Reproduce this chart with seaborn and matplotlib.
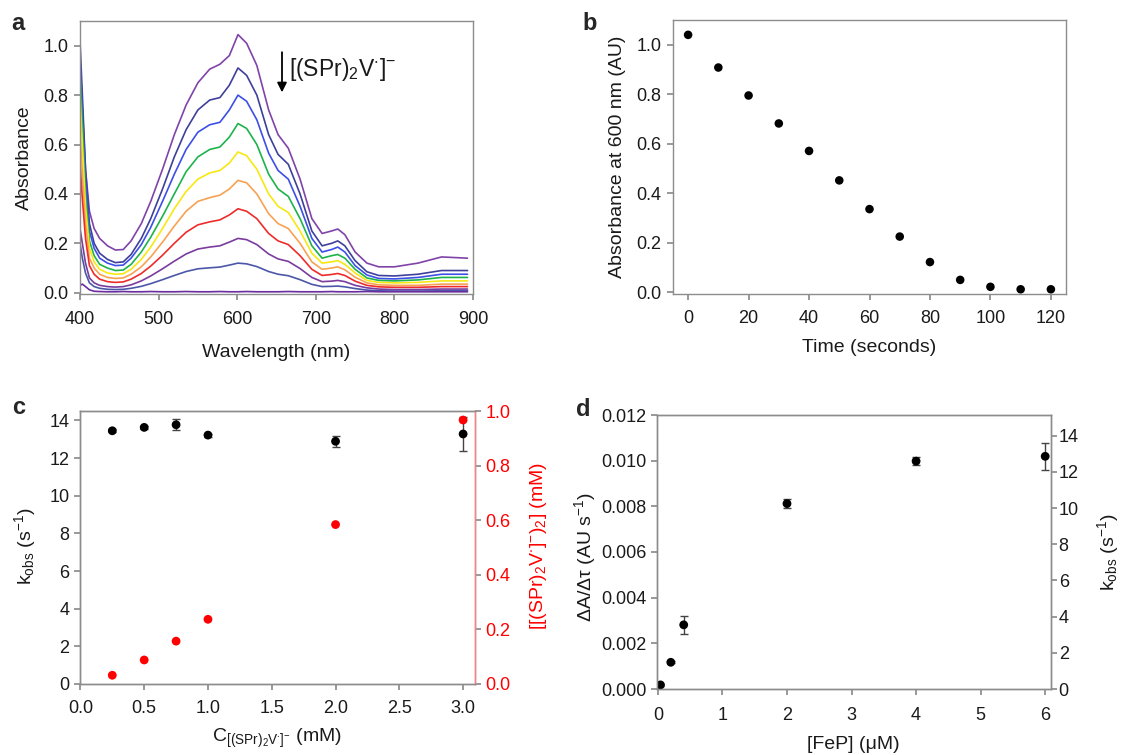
import numpy as np
import pandas as pd
import matplotlib
matplotlib.use("Agg")
import matplotlib.pyplot as plt
from matplotlib.ticker import FormatStrFormatter
import seaborn as sns

# ---- panel a: spectra (absorbance read at these wavelengths) ----
wavelength = [400, 403, 407, 412, 418, 425, 435, 445, 455, 465, 478, 490, 505, 520, 535,
              550, 565, 578, 590, 601, 612, 625, 640, 652, 665, 680, 695, 708, 720, 728,
              737, 750, 765, 780, 800, 830, 860, 893]
abs_0s = [0.95, 0.75, 0.50, 0.33, 0.26, 0.22, 0.19, 0.173, 0.175, 0.21, 0.28, 0.37, 0.50, 0.64, 0.76,
          0.85, 0.905, 0.925, 0.96, 1.045, 1.01, 0.92, 0.74, 0.64, 0.585, 0.46, 0.30, 0.24, 0.25, 0.258,
          0.235, 0.165, 0.12, 0.105, 0.105, 0.12, 0.145, 0.14]
abs_10s = [1.02, 0.80, 0.50, 0.28, 0.20, 0.16, 0.135, 0.122, 0.125, 0.155, 0.22, 0.30, 0.42, 0.55, 0.66,
           0.74, 0.78, 0.79, 0.84, 0.91, 0.88, 0.80, 0.64, 0.56, 0.52, 0.40, 0.25, 0.19, 0.20, 0.21,
           0.19, 0.13, 0.085, 0.07, 0.068, 0.075, 0.09, 0.09]
abs_20s = [0.93, 0.72, 0.45, 0.25, 0.18, 0.14, 0.12, 0.11, 0.112, 0.14, 0.195, 0.265, 0.37, 0.48, 0.58,
           0.65, 0.68, 0.69, 0.74, 0.80, 0.775, 0.70, 0.565, 0.495, 0.46, 0.35, 0.22, 0.165, 0.175, 0.185,
           0.165, 0.11, 0.072, 0.058, 0.056, 0.062, 0.075, 0.075]
abs_30s = [0.89, 0.68, 0.40, 0.21, 0.15, 0.115, 0.10, 0.09, 0.092, 0.115, 0.165, 0.225, 0.31, 0.40, 0.49,
           0.55, 0.58, 0.59, 0.63, 0.685, 0.665, 0.60, 0.48, 0.42, 0.39, 0.30, 0.19, 0.14, 0.15, 0.155,
           0.14, 0.095, 0.06, 0.05, 0.048, 0.052, 0.062, 0.062]
abs_40s = [0.80, 0.60, 0.35, 0.18, 0.125, 0.095, 0.08, 0.075, 0.077, 0.095, 0.135, 0.185, 0.26, 0.34, 0.41,
           0.46, 0.485, 0.495, 0.525, 0.57, 0.555, 0.50, 0.40, 0.35, 0.325, 0.25, 0.16, 0.12, 0.125, 0.13,
           0.115, 0.08, 0.05, 0.042, 0.04, 0.042, 0.048, 0.048]
abs_50s = [0.65, 0.48, 0.28, 0.14, 0.10, 0.075, 0.062, 0.058, 0.06, 0.075, 0.105, 0.145, 0.205, 0.27, 0.33,
           0.37, 0.385, 0.395, 0.42, 0.455, 0.445, 0.40, 0.32, 0.28, 0.26, 0.20, 0.125, 0.095, 0.10, 0.105,
           0.093, 0.063, 0.04, 0.032, 0.03, 0.03, 0.035, 0.035]
abs_60s = [0.52, 0.38, 0.22, 0.11, 0.075, 0.055, 0.045, 0.042, 0.044, 0.055, 0.078, 0.108, 0.152, 0.20, 0.245,
           0.275, 0.287, 0.295, 0.315, 0.34, 0.33, 0.30, 0.24, 0.21, 0.195, 0.15, 0.095, 0.07, 0.074, 0.078,
           0.07, 0.047, 0.03, 0.024, 0.022, 0.022, 0.025, 0.025]
abs_70s = [0.26, 0.20, 0.12, 0.06, 0.04, 0.03, 0.025, 0.023, 0.025, 0.032, 0.048, 0.068, 0.097, 0.128, 0.157,
           0.177, 0.185, 0.19, 0.205, 0.22, 0.215, 0.195, 0.157, 0.137, 0.127, 0.098, 0.062, 0.045, 0.047, 0.05,
           0.045, 0.03, 0.02, 0.015, 0.013, 0.013, 0.015, 0.015]
abs_80s = [0.20, 0.14, 0.08, 0.04, 0.025, 0.018, 0.014, 0.013, 0.014, 0.018, 0.026, 0.037, 0.053, 0.07, 0.086,
           0.097, 0.101, 0.104, 0.112, 0.12, 0.117, 0.106, 0.086, 0.075, 0.069, 0.053, 0.034, 0.025, 0.026, 0.027,
           0.024, 0.017, 0.011, 0.008, 0.007, 0.007, 0.008, 0.008]
abs_end = [0.03, 0.035, 0.025, 0.012, 0.006, 0.005, 0.004, 0.004, 0.005, 0.004, 0.004, 0.005, 0.004, 0.004, 0.005,
           0.004, 0.004, 0.005, 0.004, 0.004, 0.005, 0.004, 0.004, 0.004, 0.005, 0.004, 0.004, 0.004, 0.005, 0.004,
           0.004, 0.004, 0.005, 0.004, 0.004, 0.004, 0.004, 0.004]
scan_names = ['0 s', '10 s', '20 s', '30 s', '40 s', '50 s', '60 s', '70 s', '80 s', 'end']
scan_colors = ['#8043a8', '#3f3f9c', '#3d4fe6', '#1db34a', '#f7e813', '#f7a253',
               '#ee2b2b', '#7a3c9e', '#4b57a8', '#6a2c9e']

# ---- panel b: absorbance at 600 nm vs time ----
time_s = [0, 10, 20, 30, 40, 50, 60, 70, 80, 90, 100, 110, 120]
abs600 = [1.04, 0.908, 0.795, 0.682, 0.571, 0.452, 0.336, 0.225, 0.122, 0.05, 0.022, 0.012, 0.012]

# ---- panel c: kobs and dimer concentration vs C ----
conc_c = [0.25, 0.5, 0.75, 1.0, 2.0, 3.0]
kobs_c = [13.45, 13.63, 13.77, 13.22, 12.89, 13.28]
kobs_c_err = [0.08, 0.08, 0.3, 0.08, 0.3, 0.9]
dimer_c = [0.032, 0.088, 0.157, 0.237, 0.584, 0.967]

# ---- panel d: rate vs [FeP] ----
fep = [0.04, 0.2, 0.4, 2.0, 4.0, 6.0]
rate_d = [0.00018, 0.00117, 0.00281, 0.00812, 0.00998, 0.01019]
rate_d_err = [0.00005, 0.00005, 0.00038, 0.00018, 0.00017, 0.0006]

sns.set_theme(style="ticks", rc={
    "axes.edgecolor": "#8c8c8c", "axes.linewidth": 1.0,
    "xtick.color": "#8c8c8c", "ytick.color": "#8c8c8c",
    "xtick.labelcolor": "#1a1a1a", "ytick.labelcolor": "#1a1a1a",
    "xtick.major.size": 4, "ytick.major.size": 4,
    "xtick.labelsize": 13, "ytick.labelsize": 13,
    "axes.labelsize": 14, "axes.labelcolor": "#1a1a1a",
})
plt.rcParams['font.family'] = ['Liberation Sans', 'DejaVu Sans']
plt.rcParams['mathtext.fontset'] = 'custom'
plt.rcParams['mathtext.rm'] = 'Liberation Sans'
plt.rcParams['mathtext.it'] = 'Liberation Sans:italic'
plt.rcParams['mathtext.default'] = 'regular'

W, H = 1122, 755
fig = plt.figure(figsize=(W / 100, H / 100), dpi=100)


def add_axes(left, right, top, bottom):
    return fig.add_axes([left / W, 1 - bottom / H, (right - left) / W, (bottom - top) / H])


def box(ax):
    for s in ax.spines.values():
        s.set_visible(True)
        s.set_color('#8c8c8c')


def place_labels(ax, xlab_y, ylab_x, ylab_y=0.5):
    ax.xaxis.label.set_va('center')
    ax.xaxis.set_label_coords(0.5, xlab_y)
    ax.yaxis.label.set_va('center')
    ax.yaxis.set_label_coords(ylab_x, ylab_y)


# ---- a ----
ax_a = add_axes(80, 473, 21, 294)
spectra = [abs_0s, abs_10s, abs_20s, abs_30s, abs_40s, abs_50s, abs_60s, abs_70s, abs_80s, abs_end]
df_a = pd.concat([pd.DataFrame({'wl': wavelength, 'A': vals, 'scan': name})
                  for name, vals in zip(scan_names, spectra)], ignore_index=True)
sns.lineplot(data=df_a, x='wl', y='A', hue='scan', palette=scan_colors, estimator=None,
             sort=False, legend=False, linewidth=1.2, ax=ax_a)
ax_a.set_xlim(400, 900)
ax_a.set_ylim(-0.005, 1.1)
ax_a.set_xticks(range(400, 901, 100))
ax_a.set_yticks(np.arange(0, 1.01, 0.2))
ax_a.yaxis.set_major_formatter(FormatStrFormatter('%.1f'))
ax_a.tick_params(axis='x', pad=8.5)
ax_a.tick_params(axis='y', pad=4.5)
ax_a.set_xlabel('Wavelength (nm)')
ax_a.set_ylabel('Absorbance')
place_labels(ax_a, -0.2125, -0.1425)
box(ax_a)
ax_a.annotate('', xy=(657, 0.80), xytext=(657, 0.985),
              arrowprops=dict(arrowstyle='-|>', color='black', lw=1.3, mutation_scale=14))
ax_a.text(666, 0.905, r'[(SPr)$_2$V$^{\cdot}$]$^{-}$', fontsize=16.5, va='center', ha='left',
          color='#1a1a1a')

# ---- b ----
ax_b = add_axes(673, 1066, 20, 294)
sns.scatterplot(x=time_s, y=abs600, color='black', s=38, edgecolor='none', ax=ax_b)
ax_b.set_xlim(-5, 125)
ax_b.set_ylim(-0.007, 1.1)
ax_b.set_xticks(range(0, 121, 20))
ax_b.set_yticks(np.arange(0, 1.01, 0.2))
ax_b.yaxis.set_major_formatter(FormatStrFormatter('%.1f'))
ax_b.tick_params(axis='x', pad=7.5)
ax_b.tick_params(axis='y', pad=4.5)
ax_b.set_xlabel('Time (seconds)')
ax_b.set_ylabel('Absorbance at 600 nm (AU)')
place_labels(ax_b, -0.197, -0.14)
box(ax_b)

# ---- c ----
ax_c = add_axes(80.4, 474.6, 411, 684)
ax_c2 = ax_c.twinx()
ax_c.errorbar(conc_c, kobs_c, yerr=kobs_c_err, fmt='none', ecolor='#444444', elinewidth=1, capsize=3)
sns.scatterplot(x=conc_c, y=kobs_c, color='black', s=40, edgecolor='none', ax=ax_c, zorder=3)
sns.scatterplot(x=conc_c, y=dimer_c, color='#ff0000', s=40, edgecolor='none', ax=ax_c2, zorder=3)
ax_c.set_xlim(0, 3.09)
ax_c.set_ylim(0, 14.5)
ax_c2.set_ylim(0, 1.0)
ax_c.set_xticks(np.arange(0, 3.01, 0.5))
ax_c.xaxis.set_major_formatter(FormatStrFormatter('%.1f'))
ax_c.set_yticks(range(0, 15, 2))
ax_c2.set_yticks(np.arange(0, 1.01, 0.2))
ax_c2.yaxis.set_major_formatter(FormatStrFormatter('%.1f'))
ax_c.tick_params(axis='x', pad=7.5)
ax_c.tick_params(axis='y', pad=4)
ax_c2.tick_params(axis='y', labelcolor='#ff0000', pad=4)
ax_c.set_xlabel(r'C$_{[(SPr)_2V^{\cdot}]^{-}}$ (mM)')
ax_c.set_ylabel(r'k$_{obs}$ (s$^{-1}$)')
ax_c2.set_ylabel(r'[[(SPr)$_2$V$^{\cdot}$]$^{-}$)$_2$] (mM)', color='#ff0000')
place_labels(ax_c, -0.198, -0.14, 0.505)
ax_c2.yaxis.label.set_va('center')
ax_c2.yaxis.set_label_coords(1.161, 0.505)
box(ax_c)
box(ax_c2)
ax_c2.spines['right'].set_color('#ff8080')

# ---- d ----
ax_d = add_axes(656.6, 1051, 415, 689)
ax_d2 = ax_d.twinx()
ax_d.errorbar(fep, rate_d, yerr=rate_d_err, fmt='none', ecolor='#444444', elinewidth=1, capsize=3)
sns.scatterplot(x=fep, y=rate_d, color='black', s=40, edgecolor='none', ax=ax_d, zorder=3)
ax_d.set_xlim(-0.02, 6.09)
ax_d.set_ylim(0, 0.012)
ax_d2.set_ylim(0, 15.15)
ax_d.set_xticks(range(0, 7))
ax_d.set_yticks(np.arange(0, 0.0121, 0.002))
ax_d.yaxis.set_major_formatter(FormatStrFormatter('%.3f'))
ax_d2.set_yticks(range(0, 15, 2))
ax_d.tick_params(axis='x', pad=9)
ax_d.tick_params(axis='y', pad=3.5)
ax_d2.tick_params(axis='y', pad=1.5)
ax_d.set_xlabel('[FeP] (μM)')
ax_d.set_ylabel(r'ΔA/Δτ (AU s$^{-1}$)')
ax_d2.set_ylabel(r'k$_{obs}$ (s$^{-1}$)')
place_labels(ax_d, -0.204, -0.1815, 0.48)
ax_d2.yaxis.label.set_va('center')
ax_d2.yaxis.set_label_coords(1.145, 0.5)
box(ax_d)
box(ax_d2)

# panel letters
for letter, x, y in [('a', 18, 24), ('b', 590, 24), ('c', 19, 408), ('d', 583, 410)]:
    fig.text(x / W, 1 - y / H, letter, fontsize=17, fontweight='bold', ha='center', va='center')

fig.savefig('out.png', dpi=100)
